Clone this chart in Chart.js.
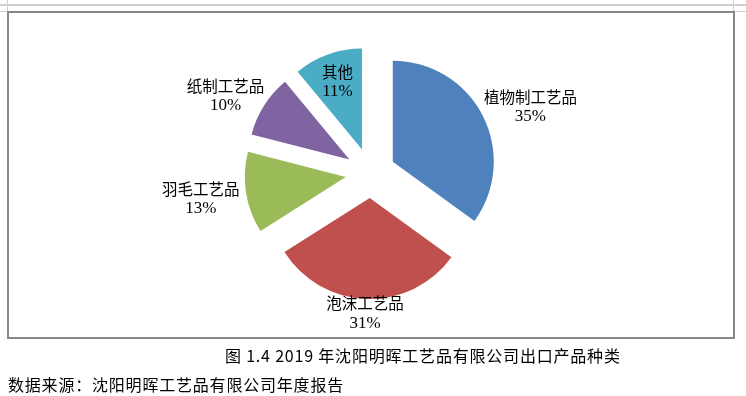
<!DOCTYPE html>
<html>
<head>
<meta charset="utf-8">
<script src="https://cdn.jsdelivr.net/npm/chart.js@4"></script>
<style>
    body { margin: 0; width: 746px; height: 396px; background: #fff; position: relative; overflow: hidden; }
    #chart { position: absolute; left: 0; top: 0; }
    .mark { position: absolute; background: #cfcfcf; }
    #frame { position: absolute; left: 7px; top: 11px; width: 728px; height: 328px; box-sizing: border-box; border: 2px solid #878787; }
    .caption { position: absolute; font-family: "Noto Sans CJK SC", sans-serif; font-size: 16px; line-height: 20px; color: #000; letter-spacing: 0.8px; white-space: nowrap; }
</style>
</head>
<body>

<div class="mark" style="left:0; top:4px; width:746px; height:2px;"></div>
<div class="mark" style="left:7px; top:0; width:1px; height:12px;"></div>
<div class="mark" style="left:733px; top:0; width:1px; height:12px;"></div>
<div class="mark" style="left:0; top:11px; width:746px; height:1px;"></div>
<div id="frame"></div>

<canvas id="chart" width="746" height="396"></canvas>

<div class="caption" style="left:225px; top:345px;">图 1.4 2019 年沈阳明晖工艺品有限公司出口产品种类</div>
<div class="caption" style="left:8px; top:374px;">数据来源：沈阳明晖工艺品有限公司年度报告</div>

<script>
const categories = ["植物制工艺品", "泡沫工艺品", "羽毛工艺品", "纸制工艺品", "其他"];
const shares = [35, 31, 13, 10, 11];
const shareLabels = ["35%", "31%", "13%", "10%", "11%"];
const colors = ["#4f81bd", "#c0504d", "#9bbb59", "#8064a2", "#4bacc6"];
// 标签放在扇区内部还是外部
const labelInside = [false, false, false, false, true];

const explode = 25;
const nameFont = "15.5px 'Noto Sans CJK SC'";
const pctFont = "17px 'Liberation Serif'";

// 把每个扇区沿中线方向推出去
const explodePlugin = {
    id: "explode",
    afterDatasetUpdate(chart, args) {
        args.meta.data.forEach(function (arc) {
            const mid = (arc.startAngle + arc.endAngle) / 2;
            arc.x += Math.cos(mid) * explode;
            arc.y += Math.sin(mid) * explode;
        });
    }
};

// 数据标签
const labelPlugin = {
    id: "pieLabels",
    afterDatasetsDraw(chart) {
        const ctx = chart.ctx;
        const arcs = chart.getDatasetMeta(0).data;
        ctx.save();
        ctx.fillStyle = "#000";
        ctx.textAlign = "center";
        ctx.textBaseline = "middle";
        arcs.forEach(function (arc, i) {
            const mid = (arc.startAngle + arc.endAngle) / 2;
            const ux = Math.cos(mid);
            const uy = Math.sin(mid);
            const lineH = 18.5;
            ctx.font = nameFont;
            const halfW = ctx.measureText(categories[i]).width / 2;
            let cx, cy;
            if (labelInside[i]) {
                cx = arc.x + ux * arc.outerRadius * 0.72;
                cy = arc.y + uy * arc.outerRadius * 0.72;
            } else {
                const px = arc.x + ux * arc.outerRadius;
                const py = arc.y + uy * arc.outerRadius;
                cx = px + ux * (halfW + 7);
                cy = py + Math.sign(uy) * Math.sqrt(Math.abs(uy)) * lineH * 0.75;
            }
            ctx.fillText(categories[i], cx, cy - lineH / 2);
            ctx.font = pctFont;
            ctx.fillText(shareLabels[i], cx, cy + lineH / 2 + 1);
        });
        ctx.restore();
    }
};

new Chart(document.getElementById("chart"), {
    type: "pie",
    data: {
        labels: categories,
        datasets: [{
            data: shares,
            backgroundColor: colors,
            borderWidth: 0,
            radius: 101
        }]
    },
    options: {
        responsive: false,
        animation: false,
        layout: { padding: { left: 0, right: 5, top: 0, bottom: 50 } },
        plugins: {
            legend: { display: false },
            tooltip: { enabled: false }
        }
    },
    plugins: [explodePlugin, labelPlugin]
});
</script>
</body>
</html>
